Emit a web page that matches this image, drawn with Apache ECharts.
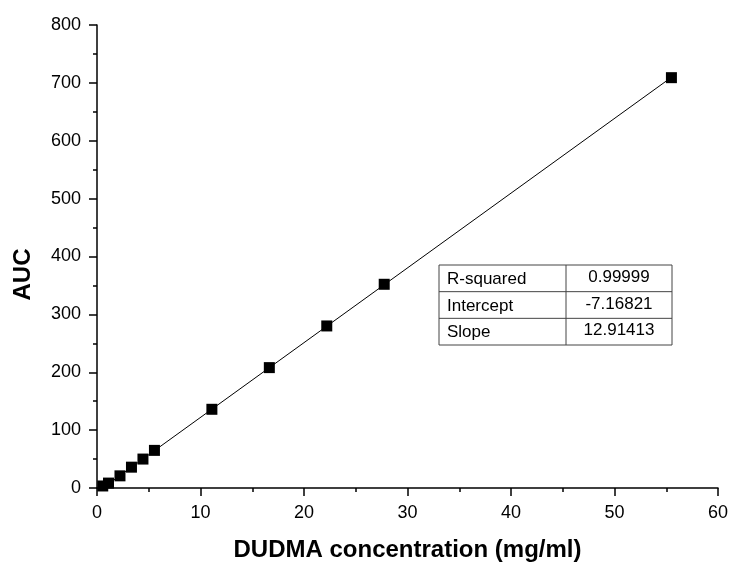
<!DOCTYPE html>
<html><head><meta charset="utf-8">
<script src="https://cdn.jsdelivr.net/npm/echarts@6/dist/echarts.min.js"></script>
<style>html,body{margin:0;padding:0;background:#fff}#c{width:732px;height:567px}</style>
</head><body><div id="c"></div>
<script>
var concentration = [0.555, 1.11, 2.22, 3.33, 4.44, 5.55, 11.1, 16.65, 22.2, 27.75, 55.5];
var aucValues = [3.5, 8.5, 21, 36, 50, 65, 136, 208, 280, 352, 709];
var fitX = [0.555, 55.5];
var fitY = [0.0, 709.6];
var tableLabels = ['R-squared', 'Intercept', 'Slope'];
var tableValues = ['0.99999', '-7.16821', '12.91413'];
var xTickLabels = ['0', '10', '20', '30', '40', '50', '60'];
var yTickLabels = ['0', '100', '200', '300', '400', '500', '600', '700', '800'];

var FONT = '"Liberation Sans", Arial, sans-serif';
var chart = echarts.init(document.getElementById('c'));

var tbl = {x: 439, y: 265, w: 233, h: 80, div: 127};
var rowH = tbl.h / tableLabels.length;
var gChildren = [{type: 'rect', shape: {x: tbl.x, y: tbl.y, width: tbl.w, height: tbl.h},
  style: {fill: '#fff', stroke: '#444', lineWidth: 1}}];
gChildren.push({type: 'line', shape: {x1: tbl.x + tbl.div, y1: tbl.y, x2: tbl.x + tbl.div, y2: tbl.y + tbl.h},
  style: {stroke: '#444', lineWidth: 1}});
for (var i = 0; i < tableLabels.length; i++) {
  if (i > 0) gChildren.push({type: 'line', shape: {x1: tbl.x, y1: tbl.y + i * rowH, x2: tbl.x + tbl.w, y2: tbl.y + i * rowH},
    style: {stroke: '#444', lineWidth: 1}});
  gChildren.push({type: 'text', x: tbl.x + 8, y: tbl.y + i * rowH + rowH / 2 + 1,
    style: {text: tableLabels[i], font: '17px ' + FONT, fill: '#000', verticalAlign: 'middle', align: 'left'}});
  gChildren.push({type: 'text', x: tbl.x + tbl.div + (tbl.w - tbl.div) / 2, y: tbl.y + i * rowH + rowH / 2 - 1,
    style: {text: tableValues[i], font: '17px ' + FONT, fill: '#000', verticalAlign: 'middle', align: 'center'}});
}

chart.setOption({
  animation: false,
  backgroundColor: '#fff',
  grid: {left: 97, right: 14, top: 25, bottom: 79},
  xAxis: {
    type: 'value', min: 0, max: 60, interval: 10,
    name: 'DUDMA concentration (mg/ml)', nameLocation: 'middle', nameGap: 50,
    nameTextStyle: {fontFamily: FONT, fontSize: 24, fontWeight: 'bold', color: '#000'},
    axisLine: {onZero: false, lineStyle: {color: '#000', width: 1.5}},
    axisTick: {show: true, inside: false, length: 8, lineStyle: {color: '#000', width: 1.5}},
    minorTick: {show: true, splitNumber: 2, length: 4, lineStyle: {color: '#000', width: 1.5}},
    axisLabel: {fontFamily: FONT, fontSize: 18, color: '#000', margin: 16,
      formatter: function (v) { return xTickLabels[Math.round(v / 10)]; }},
    splitLine: {show: false}
  },
  yAxis: {
    type: 'value', min: 0, max: 800, interval: 100,
    name: 'AUC', nameLocation: 'middle', nameGap: 62,
    nameTextStyle: {fontFamily: FONT, fontSize: 24, fontWeight: 'bold', color: '#000', padding: [0, 36, 0, 0]},
    axisLine: {onZero: false, lineStyle: {color: '#000', width: 1.5}},
    axisTick: {show: true, inside: false, length: 8, lineStyle: {color: '#000', width: 1.5}},
    minorTick: {show: true, splitNumber: 2, length: 4, lineStyle: {color: '#000', width: 1.5}},
    axisLabel: {fontFamily: FONT, fontSize: 18, color: '#000', margin: 16,
      formatter: function (v) { return yTickLabels[Math.round(v / 100)]; }},
    splitLine: {show: false}
  },
  series: [
    {type: 'line', data: fitX.map(function (x, i) { return [x, fitY[i]]; }),
      showSymbol: false, symbol: 'none', lineStyle: {color: '#000', width: 1}, z: 2},
    {type: 'scatter', data: concentration.map(function (x, i) { return [x, aucValues[i]]; }),
      symbol: 'rect', symbolSize: 11, itemStyle: {color: '#000', opacity: 1}, z: 3}
  ],
  graphic: [{type: 'group', children: gChildren, z: 10}]
});
</script></body></html>
